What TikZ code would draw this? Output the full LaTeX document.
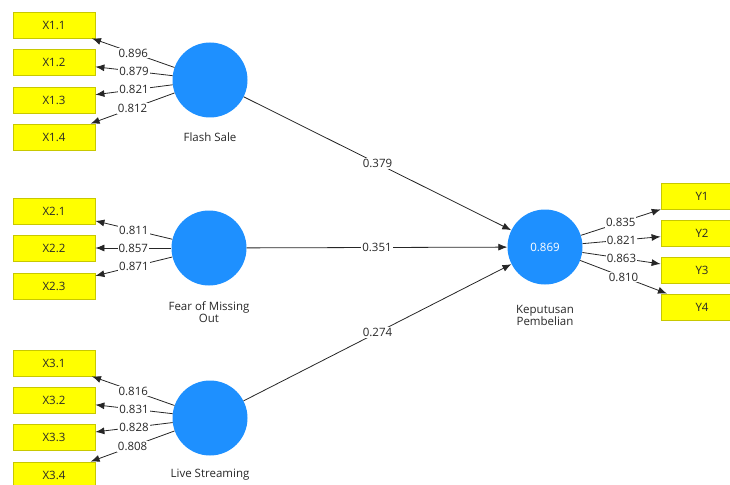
\documentclass[tikz,border=0pt]{standalone}
\usepackage{fontspec}
\setmainfont{Open Sans}
\usetikzlibrary{arrows.meta}
\definecolor{lvblue}{RGB}{30,144,255}
\definecolor{indyel}{RGB}{255,255,0}
\definecolor{indbrd}{RGB}{200,200,0}
\definecolor{txtgray}{RGB}{40,40,40}
\begin{document}
\begin{tikzpicture}[x=1pt,y=-1pt,
  font=\fontsize{11.5}{14}\selectfont,
  latent/.style={circle,fill=lvblue,draw=none,minimum size=75pt,inner sep=0pt,text=white},
  indicator/.style={rectangle,fill=indyel,draw=indbrd,line width=0.8pt,minimum width=82pt,minimum height=26pt,inner sep=0pt,text=txtgray},
  lab/.style={text=txtgray,align=center},
  conn/.style={draw=black!85,line width=0.8pt,-{Latex[length=9pt,width=7pt]}},
  wt/.style={fill=white,inner sep=1pt,text=txtgray,pos=0.5}
]
\useasboundingbox (0,0) rectangle (730,484);
\clip (0,0) rectangle (730,484);

% latent variables
\node[latent] (FS) at (210,80) {};
\node[latent] (FO) at (209,248) {};
\node[latent] (LS) at (210,418) {};
\node[latent] (KP) at (545,247) {0.869};

\node[lab] (FSl) at (210,137) {Flash Sale};
\node[lab] (FOl) at (209,312.5) {Fear of Missing\\[-2pt]Out};
\node[lab] (LSl) at (210,475) {Live Streaming};
\node[lab] (KPl) at (545,315.5) {Keputusan\\[-2pt]Pembelian};

% indicators
\node[indicator] (X11) at (54,25) {X1.1};
\node[indicator] (X12) at (54,62) {X1.2};
\node[indicator] (X13) at (54,100) {X1.3};
\node[indicator] (X14) at (54,137) {X1.4};
\node[indicator] (X21) at (54,211) {X2.1};
\node[indicator] (X22) at (54,248) {X2.2};
\node[indicator] (X23) at (54,286) {X2.3};
\node[indicator] (X31) at (54,363) {X3.1};
\node[indicator] (X32) at (54,400) {X3.2};
\node[indicator] (X33) at (54,437) {X3.3};
\node[indicator] (X34) at (54,475) {X3.4};
\node[indicator] (Y1) at (702,196) {Y1};
\node[indicator] (Y2) at (702,233) {Y2};
\node[indicator] (Y3) at (702,270) {Y3};
\node[indicator] (Y4) at (702,307) {Y4};

% outer loadings
\draw[conn] (FS) -- node[wt]{0.896} (X11);
\draw[conn] (FS) -- node[wt]{0.879} (X12);
\draw[conn] (FS) -- node[wt]{0.821} (X13);
\draw[conn] (FS) -- node[wt]{0.812} (X14);
\draw[conn] (FO) -- node[wt]{0.811} (X21);
\draw[conn] (FO) -- node[wt]{0.857} (X22);
\draw[conn] (FO) -- node[wt]{0.871} (X23);
\draw[conn] (LS) -- node[wt]{0.816} (X31);
\draw[conn] (LS) -- node[wt]{0.831} (X32);
\draw[conn] (LS) -- node[wt]{0.828} (X33);
\draw[conn] (LS) -- node[wt]{0.808} (X34);
\draw[conn] (KP) -- node[wt]{0.835} (Y1);
\draw[conn] (KP) -- node[wt]{0.821} (Y2);
\draw[conn] (KP) -- node[wt]{0.863} (Y3);
\draw[conn] (KP) -- node[wt]{0.810} (Y4);

% path coefficients
\draw[conn] (FS) -- node[wt]{0.379} (KP);
\draw[conn] (FO) -- node[wt]{0.351} (KP);
\draw[conn] (LS) -- node[wt]{0.274} (KP);
\end{tikzpicture}
\end{document}
